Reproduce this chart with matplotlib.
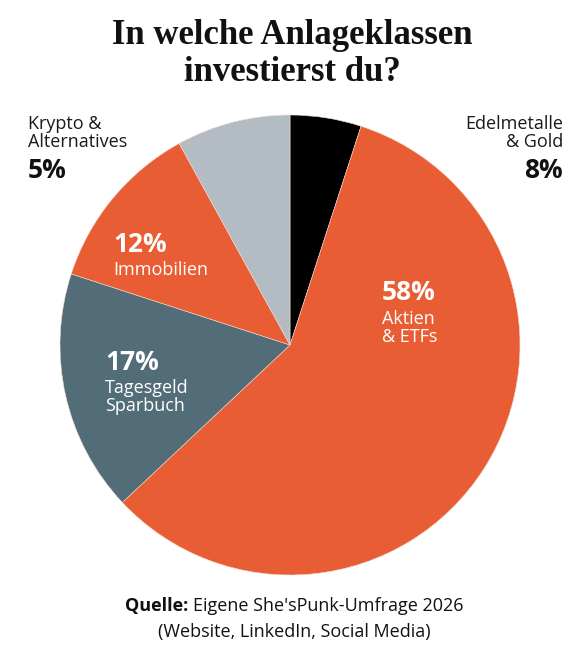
import matplotlib
matplotlib.use("Agg")
import matplotlib.pyplot as plt

# slices clockwise from 12 o'clock
segments = ["Edelmetalle & Gold", "Aktien & ETFs", "Tagesgeld Sparbuch", "Immobilien", "Krypto & Alternatives"]
shares = [5, 58, 17, 12, 8]
colors = ["#000000", "#E85D33", "#526D77", "#E85D33", "#B3BCC2"]

title = "In welche Anlageklassen\ninvestierst du?"
source_bold = "Quelle:"
source_rest = "Eigene She'sPunk-Umfrage 2026"
source_line2 = "(Website, LinkedIn, Social Media)"

W, H = 587, 646
SANS = ["Open Sans", "DejaVu Sans"]
SERIF = ["Liberation Serif", "DejaVu Serif"]

fig = plt.figure(figsize=(W / 100, H / 100), dpi=100)
fig.patch.set_facecolor("white")

def px(x, y):
    return x / W, 1 - y / H

# pie centred at (290, 345) px, radius 230 px
cx, cy, r = 290, 345, 230
ax = fig.add_axes([(cx - r) / W, (H - cy - r) / H, 2 * r / W, 2 * r / H])
ax.pie(shares, colors=colors, startangle=90, counterclock=False, radius=1,
       wedgeprops=dict(linewidth=0.4, edgecolor="#f3d9cf"))
ax.set_xlim(-1, 1)
ax.set_ylim(-1, 1)
ax.set_aspect("equal")
ax.axis("off")

fig.text(*px(292, 54), title, ha="center", va="center", fontsize=25,
         fontweight="bold", family=SERIF, linespacing=1.15, color="#111111")

LBL = 13
PCT = 19
# outside labels
fig.text(*px(28, 133), "Krypto &\nAlternatives", ha="left", va="center",
         fontsize=LBL, family=SANS, linespacing=1.05, color="#1a1a1a")
fig.text(*px(28, 171), "5%", ha="left", va="center", fontsize=PCT,
         fontweight="bold", family=SANS, color="#111111")
fig.text(*px(563, 133), "Edelmetalle\n& Gold", ha="right", va="center",
         fontsize=LBL, family=SANS, linespacing=1.05, color="#1a1a1a")
fig.text(*px(563, 171), "8%", ha="right", va="center", fontsize=PCT,
         fontweight="bold", family=SANS, color="#111111")

# inside labels
inner = [
    (382, 293, "58%", "Aktien\n& ETFs", 328),
    (113, 245, "12%", "Immobilien", 270),
    (105, 362, "17%", "Tagesgeld\nSparbuch", 397),
]
for x, y, pct, name, ny in inner:
    fig.text(*px(x, y), pct, ha="left", va="center", fontsize=PCT,
             fontweight="bold", family=SANS, color="white")
    fig.text(*px(x, ny), name, ha="left", va="center", fontsize=LBL,
             family=SANS, linespacing=1.05, color="white")

# source line, bold part + regular part centred together
fig.canvas.draw()
renderer = fig.canvas.get_renderer()
t1 = fig.text(0, 1 - 606 / H, source_bold, ha="left", va="center",
              fontsize=LBL, fontweight="bold", family=SANS, color="#111111")
t2 = fig.text(0, 1 - 606 / H, source_rest, ha="left", va="center",
              fontsize=LBL, family=SANS, color="#111111")
w1 = t1.get_window_extent(renderer).width
w2 = t2.get_window_extent(renderer).width
gap = 5
start = 294 - (w1 + gap + w2) / 2
t1.set_x(start / W)
t2.set_x((start + w1 + gap) / W)
fig.text(*px(294, 632), source_line2, ha="center", va="center",
         fontsize=LBL, family=SANS, color="#111111")

fig.savefig("out.png", dpi=100, facecolor="white")
